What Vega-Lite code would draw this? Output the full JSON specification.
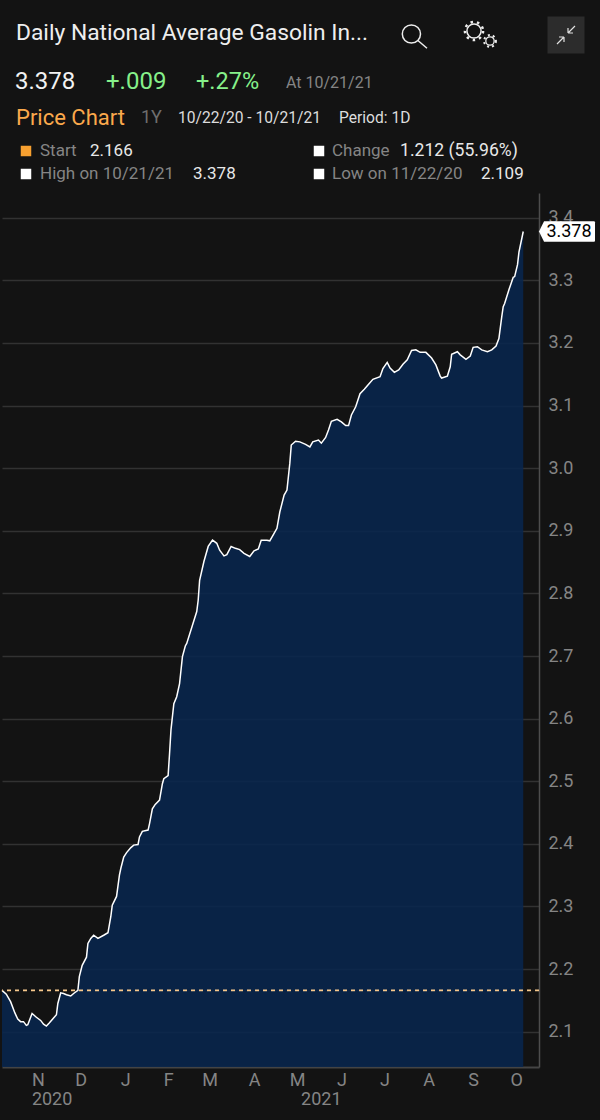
{"$schema":"https://vega.github.io/schema/vega-lite/v6.json","width":537,"height":874,"autosize":{"type":"none"},"padding":{"left":2,"top":193,"right":61,"bottom":53},"background":"#131313","config":{"view":{"stroke":null},"text":{"font":"Roboto","baseline":"middle","align":"left"}},"datasets":{"series":[{"date":"2020-10-22","value":2.166},{"date":"2020-10-25","value":2.16},{"date":"2020-10-28","value":2.148},{"date":"2020-10-31","value":2.13},{"date":"2020-11-02","value":2.12},{"date":"2020-11-04","value":2.116},{"date":"2020-11-06","value":2.116},{"date":"2020-11-08","value":2.11},{"date":"2020-11-09","value":2.111},{"date":"2020-11-12","value":2.129},{"date":"2020-11-15","value":2.123},{"date":"2020-11-18","value":2.118},{"date":"2020-11-20","value":2.112},{"date":"2020-11-22","value":2.109},{"date":"2020-11-24","value":2.114},{"date":"2020-11-27","value":2.122},{"date":"2020-11-29","value":2.127},{"date":"2020-11-30","value":2.145},{"date":"2020-12-02","value":2.162},{"date":"2020-12-04","value":2.161},{"date":"2020-12-06","value":2.159},{"date":"2020-12-09","value":2.157},{"date":"2020-12-11","value":2.161},{"date":"2020-12-14","value":2.166},{"date":"2020-12-15","value":2.188},{"date":"2020-12-17","value":2.206},{"date":"2020-12-20","value":2.219},{"date":"2020-12-21","value":2.241},{"date":"2020-12-23","value":2.249},{"date":"2020-12-25","value":2.254},{"date":"2020-12-28","value":2.249},{"date":"2021-01-01","value":2.254},{"date":"2021-01-04","value":2.258},{"date":"2021-01-06","value":2.284},{"date":"2021-01-07","value":2.302},{"date":"2021-01-10","value":2.316},{"date":"2021-01-12","value":2.35},{"date":"2021-01-13","value":2.361},{"date":"2021-01-15","value":2.379},{"date":"2021-01-17","value":2.386},{"date":"2021-01-20","value":2.394},{"date":"2021-01-22","value":2.398},{"date":"2021-01-25","value":2.399},{"date":"2021-01-26","value":2.411},{"date":"2021-01-28","value":2.42},{"date":"2021-02-01","value":2.422},{"date":"2021-02-02","value":2.432},{"date":"2021-02-04","value":2.456},{"date":"2021-02-06","value":2.463},{"date":"2021-02-09","value":2.47},{"date":"2021-02-11","value":2.496},{"date":"2021-02-12","value":2.504},{"date":"2021-02-15","value":2.509},{"date":"2021-02-16","value":2.544},{"date":"2021-02-17","value":2.582},{"date":"2021-02-19","value":2.624},{"date":"2021-02-21","value":2.635},{"date":"2021-02-23","value":2.656},{"date":"2021-02-25","value":2.699},{"date":"2021-02-27","value":2.716},{"date":"2021-02-28","value":2.72},{"date":"2021-03-07","value":2.771},{"date":"2021-03-08","value":2.789},{"date":"2021-03-09","value":2.821},{"date":"2021-03-12","value":2.851},{"date":"2021-03-15","value":2.875},{"date":"2021-03-18","value":2.885},{"date":"2021-03-21","value":2.88},{"date":"2021-03-23","value":2.869},{"date":"2021-03-26","value":2.86},{"date":"2021-03-28","value":2.862},{"date":"2021-03-31","value":2.875},{"date":"2021-04-03","value":2.872},{"date":"2021-04-06","value":2.87},{"date":"2021-04-09","value":2.864},{"date":"2021-04-13","value":2.859},{"date":"2021-04-16","value":2.868},{"date":"2021-04-19","value":2.871},{"date":"2021-04-21","value":2.885},{"date":"2021-04-25","value":2.885},{"date":"2021-04-27","value":2.884},{"date":"2021-04-30","value":2.896},{"date":"2021-05-02","value":2.904},{"date":"2021-05-04","value":2.93},{"date":"2021-05-07","value":2.957},{"date":"2021-05-09","value":2.965},{"date":"2021-05-11","value":3.008},{"date":"2021-05-12","value":3.037},{"date":"2021-05-15","value":3.043},{"date":"2021-05-18","value":3.042},{"date":"2021-05-22","value":3.038},{"date":"2021-05-25","value":3.034},{"date":"2021-05-27","value":3.042},{"date":"2021-05-31","value":3.045},{"date":"2021-06-02","value":3.04},{"date":"2021-06-05","value":3.049},{"date":"2021-06-07","value":3.061},{"date":"2021-06-09","value":3.075},{"date":"2021-06-13","value":3.078},{"date":"2021-06-16","value":3.074},{"date":"2021-06-19","value":3.068},{"date":"2021-06-21","value":3.068},{"date":"2021-06-23","value":3.085},{"date":"2021-06-26","value":3.098},{"date":"2021-06-29","value":3.119},{"date":"2021-07-02","value":3.126},{"date":"2021-07-05","value":3.134},{"date":"2021-07-08","value":3.142},{"date":"2021-07-13","value":3.146},{"date":"2021-07-15","value":3.159},{"date":"2021-07-18","value":3.169},{"date":"2021-07-20","value":3.16},{"date":"2021-07-23","value":3.153},{"date":"2021-07-26","value":3.157},{"date":"2021-07-29","value":3.166},{"date":"2021-08-01","value":3.173},{"date":"2021-08-04","value":3.188},{"date":"2021-08-07","value":3.189},{"date":"2021-08-10","value":3.185},{"date":"2021-08-14","value":3.185},{"date":"2021-08-18","value":3.176},{"date":"2021-08-21","value":3.165},{"date":"2021-08-24","value":3.147},{"date":"2021-08-25","value":3.144},{"date":"2021-08-29","value":3.147},{"date":"2021-08-31","value":3.162},{"date":"2021-09-01","value":3.182},{"date":"2021-09-05","value":3.186},{"date":"2021-09-07","value":3.181},{"date":"2021-09-11","value":3.174},{"date":"2021-09-14","value":3.179},{"date":"2021-09-16","value":3.193},{"date":"2021-09-19","value":3.194},{"date":"2021-09-22","value":3.189},{"date":"2021-09-26","value":3.186},{"date":"2021-09-29","value":3.189},{"date":"2021-10-02","value":3.195},{"date":"2021-10-04","value":3.207},{"date":"2021-10-06","value":3.242},{"date":"2021-10-07","value":3.258},{"date":"2021-10-08","value":3.263},{"date":"2021-10-11","value":3.285},{"date":"2021-10-14","value":3.305},{"date":"2021-10-15","value":3.306},{"date":"2021-10-17","value":3.325},{"date":"2021-10-18","value":3.345},{"date":"2021-10-21","value":3.378}],"one":[{"k":1}]},"layer":[
{"data":{"name":"series"},"mark":{"type":"area","color":"#09264c","opacity":0.9,"clip":true},"encoding":{"x":{"field":"date","type":"temporal","title":null,"scale":{"domain":["2020-10-22","2021-11-01"],"nice":false},"axis":{"values":["2020-11-16","2020-12-16","2021-01-16","2021-02-15","2021-03-16","2021-04-16","2021-05-16","2021-06-16","2021-07-16","2021-08-16","2021-09-16","2021-10-16"],"labelExpr":"substring(timeFormat(datum.value,'%b'),0,1)","grid":false,"ticks":false,"domainColor":"#444444","domainWidth":2,"labelColor":"#858585","labelFont":"Roboto","labelFontSize":18,"labelPadding":4,"labelBaseline":"top","labelFlush":false,"labelOverlap":false}},"y":{"field":"value","type":"quantitative","title":null,"scale":{"domain":[2.0436,3.4395],"zero":false,"nice":false},"axis":{"orient":"right","values":[2.1,2.2,2.3,2.4,2.5,2.6,2.7,2.8,2.9,3.0,3.1,3.2,3.3,3.4],"format":".1f","grid":true,"gridColor":"#323232","gridWidth":1.5,"ticks":false,"domainColor":"#4d4d4d","domainWidth":1.5,"labelColor":"#858585","labelFont":"Roboto","labelFontSize":18,"labelPadding":9,"labelOverlap":false}}}},
{"data":{"name":"series"},"mark":{"type":"line","color":"#ffffff","strokeWidth":1.5},"encoding":{"x":{"field":"date","type":"temporal","title":null},"y":{"field":"value","type":"quantitative","title":null}}},
{"data":{"values":[{"value":2.166}]},"mark":{"type":"rule","color":"#f8c98d","strokeWidth":1.6,"strokeDash":[4,4]},"encoding":{"y":{"field":"value","type":"quantitative","title":null}}},
{"data":{"values":[{"value":3.378}]},"mark":{"type":"point","x":565,"filled":true,"opacity":1,"color":"#ffffff","size":3136,"shape":"M-1,0 L-0.82,-0.37 L0.96,-0.37 Q1,-0.37 1,-0.33 L1,0.33 Q1,0.37 0.96,0.37 L-0.82,0.37 Z"},"encoding":{"y":{"field":"value","type":"quantitative","title":null}}},
{"data":{"values":[{"value":3.378,"label":"3.378"}]},"mark":{"type":"text","x":567,"align":"center","color":"#000000","fontSize":18},"encoding":{"y":{"field":"value","type":"quantitative","title":null},"text":{"field":"label"}}},
{"data":{"values":[{"date":"2020-11-26","label":"2020"},{"date":"2021-06-02","label":"2021"}]},"mark":{"type":"text","y":907,"align":"center","color":"#858585","fontSize":18},"encoding":{"x":{"field":"date","type":"temporal","title":null},"text":{"field":"label"}}},
{"data":{"values":[{"t":"Daily National Average Gasolin In..."}]},"mark":{"type":"text","x":14,"y":-160,"fontSize":22.8,"color":"#eeeeee"},"encoding":{"text":{"field":"t"}}},
{"data":{"values":[{"t":"3.378"}]},"mark":{"type":"text","x":13,"y":-111,"fontSize":24,"color":"#f2f2f2"},"encoding":{"text":{"field":"t"}}},
{"data":{"values":[{"t":"+.009"}]},"mark":{"type":"text","x":104,"y":-111,"fontSize":24,"color":"#86f08a"},"encoding":{"text":{"field":"t"}}},
{"data":{"values":[{"t":"+.27%"}]},"mark":{"type":"text","x":194,"y":-111,"fontSize":23.5,"color":"#86f08a"},"encoding":{"text":{"field":"t"}}},
{"data":{"values":[{"t":"At 10/21/21"}]},"mark":{"type":"text","x":284,"y":-110,"fontSize":16,"color":"#858585"},"encoding":{"text":{"field":"t"}}},
{"data":{"values":[{"t":"Price Chart"}]},"mark":{"type":"text","x":14,"y":-75,"fontSize":22,"color":"#fba94c"},"encoding":{"text":{"field":"t"}}},
{"data":{"values":[{"t":"1Y"}]},"mark":{"type":"text","x":139,"y":-75,"fontSize":18,"color":"#6e6e6e"},"encoding":{"text":{"field":"t"}}},
{"data":{"values":[{"t":"10/22/20 - 10/21/21"}]},"mark":{"type":"text","x":176,"y":-75,"fontSize":15.6,"color":"#dddddd"},"encoding":{"text":{"field":"t"}}},
{"data":{"values":[{"t":"Period: 1D"}]},"mark":{"type":"text","x":337,"y":-75,"fontSize":15.6,"color":"#dddddd"},"encoding":{"text":{"field":"t"}}},
{"data":{"values":[{"t":"Start"}]},"mark":{"type":"text","x":38,"y":-42,"fontSize":17,"color":"#858585"},"encoding":{"text":{"field":"t"}}},
{"data":{"values":[{"t":"2.166"}]},"mark":{"type":"text","x":88,"y":-42,"fontSize":17,"color":"#e8e8e8"},"encoding":{"text":{"field":"t"}}},
{"data":{"values":[{"t":"High on 10/21/21"}]},"mark":{"type":"text","x":38,"y":-19,"fontSize":17,"color":"#858585"},"encoding":{"text":{"field":"t"}}},
{"data":{"values":[{"t":"3.378"}]},"mark":{"type":"text","x":191,"y":-19,"fontSize":17,"color":"#e8e8e8"},"encoding":{"text":{"field":"t"}}},
{"data":{"values":[{"t":"Change"}]},"mark":{"type":"text","x":330,"y":-42,"fontSize":17,"color":"#858585"},"encoding":{"text":{"field":"t"}}},
{"data":{"values":[{"t":"1.212 (55.96%)"}]},"mark":{"type":"text","x":398,"y":-42,"fontSize":17.6,"color":"#e8e8e8"},"encoding":{"text":{"field":"t"}}},
{"data":{"values":[{"t":"Low on 11/22/20"}]},"mark":{"type":"text","x":330,"y":-19,"fontSize":17,"color":"#858585"},"encoding":{"text":{"field":"t"}}},
{"data":{"values":[{"t":"2.109"}]},"mark":{"type":"text","x":479,"y":-19,"fontSize":17,"color":"#e8e8e8"},"encoding":{"text":{"field":"t"}}},
{"data":{"name":"one"},"mark":{"type":"point","x":24,"y":-42,"shape":"square","size":110,"filled":true,"opacity":1,"color":"#f7a030"}},
{"data":{"name":"one"},"mark":{"type":"point","x":24,"y":-19,"shape":"square","size":110,"filled":true,"opacity":1,"color":"#ffffff"}},
{"data":{"name":"one"},"mark":{"type":"point","x":317,"y":-42,"shape":"square","size":110,"filled":true,"opacity":1,"color":"#ffffff"}},
{"data":{"name":"one"},"mark":{"type":"point","x":317,"y":-19,"shape":"square","size":110,"filled":true,"opacity":1,"color":"#ffffff"}},
{"data":{"name":"one"},"mark":{"type":"point","x":564,"y":-158,"shape":"square","size":1369,"filled":true,"opacity":1,"color":"#2c2c2c"}},
{"data":{"name":"one"},"mark":{"type":"point","x":564,"y":-158,"size":400,"filled":false,"opacity":1,"color":"#e0e0e0","strokeWidth":1.2,"shape":"M0.2,-0.2 L0.9,-0.9 M0.2,-0.2 L0.2,-0.7 M0.2,-0.2 L0.7,-0.2 M-0.2,0.2 L-0.9,0.9 M-0.2,0.2 L-0.2,0.7 M-0.2,0.2 L-0.7,0.2"}},
{"data":{"name":"one"},"mark":{"type":"point","x":412,"y":-159,"size":676,"filled":false,"opacity":1,"color":"#eeeeee","strokeWidth":1.5,"shape":"M0.5,0 A0.7,0.7 0 1 1 -0.9,0 A0.7,0.7 0 1 1 0.5,0 Z M0.3,0.5 L1,1.1"}},
{"data":{"name":"one"},"mark":{"type":"point","x":472,"y":-162,"size":200,"shape":"circle","filled":false,"opacity":1,"color":"#eeeeee","strokeWidth":1.5}},
{"data":{"name":"one"},"mark":{"type":"point","x":472,"y":-162,"size":330,"shape":"circle","filled":false,"opacity":1,"color":"#eeeeee","strokeWidth":2.5,"strokeDash":[2.5,4]}},
{"data":{"name":"one"},"mark":{"type":"point","x":488,"y":-152,"size":70,"shape":"circle","filled":false,"opacity":1,"color":"#eeeeee","strokeWidth":1.3}},
{"data":{"name":"one"},"mark":{"type":"point","x":488,"y":-152,"size":140,"shape":"circle","filled":false,"opacity":1,"color":"#eeeeee","strokeWidth":2,"strokeDash":[2,3]}}
]}
